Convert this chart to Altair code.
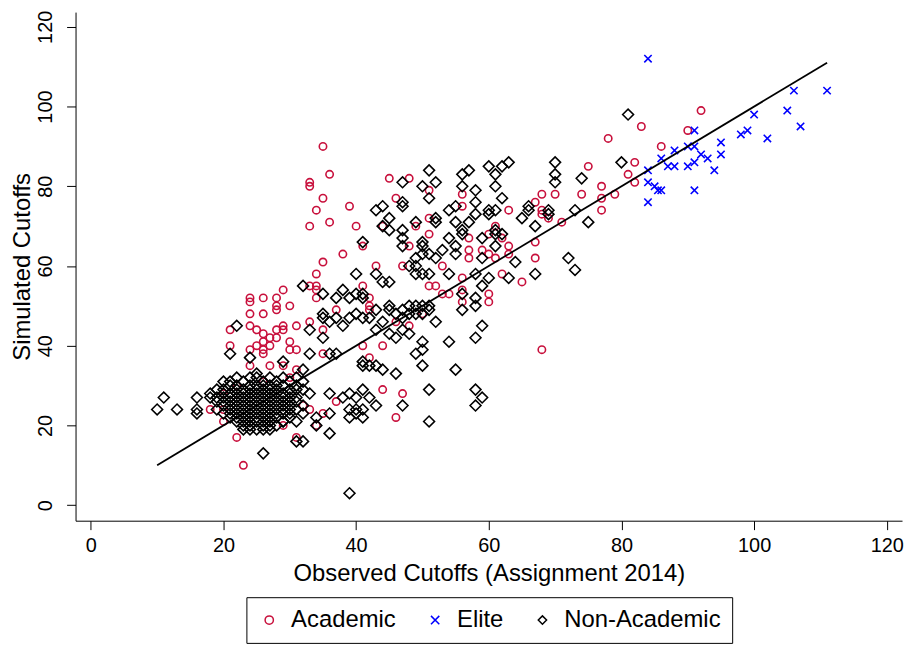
import altair as alt
import pandas as pd

groups = ["Academic", "Elite", "Non-Academic"]
group_colors = ["#c8103c", "#0000ff", "#000000"]
group_shapes = ["circle", "M-1,-1L1,1M-1,1L1,-1", "diamond"]
group_sizes = [55, 55, 120]

# (observed, simulated) cutoffs
academic = [
    [78, 92], [83, 95], [92, 99], [90, 94], [86, 90], [82, 86], [81, 83], [82, 81],
    [77, 80], [79, 78], [77, 77], [77, 74], [75, 85], [74, 78], [70, 78], [68, 78],
    [67, 76], [68, 74], [68, 73], [69, 72], [71, 71], [63, 74], [56, 78], [56, 75],
    [61, 70], [60, 68], [62, 67], [57, 67], [57, 64], [57, 62], [59, 64], [60, 63],
    [63, 65], [63, 63], [61, 62], [67, 66], [67, 62], [62, 58], [65, 56], [56, 57],
    [60, 53], [60, 51], [68, 39], [56, 51], [35, 90], [36, 83], [33, 81], [33, 80],
    [35, 77], [34, 74], [39, 75], [36, 71], [33, 70], [40, 70], [45, 82], [48, 82],
    [46, 77], [51, 79], [51, 72], [49, 70], [44, 70], [41, 65], [38, 63], [35, 61],
    [34, 58], [43, 60], [47, 60], [51, 68], [48, 65], [53, 60], [33, 55], [34, 54],
    [34, 52], [41, 55], [42, 52], [42, 50], [42, 49], [37, 49], [33, 46], [35, 44],
    [35, 38], [41, 40], [44, 40], [42, 37], [46, 46], [48, 45], [50, 48], [44, 29],
    [47, 28], [46, 22], [37, 26], [33, 24], [35, 23], [31, 45], [31, 39], [51, 55],
    [52, 55], [53, 53], [54, 53], [56, 54], [24, 52], [24, 51], [26, 52], [28, 52],
    [29, 54], [28, 50], [28, 49], [30, 50], [24, 48], [26, 48], [24, 45], [25, 44],
    [26, 43], [28, 44], [29, 45], [29, 44], [21, 44], [21, 40], [27, 42], [28, 42],
    [26, 41], [25, 40], [26, 39], [26, 38], [24, 39], [27, 40], [30, 41], [30, 39],
    [34, 55], [18, 24], [20, 21], [22, 17], [23, 10], [29, 20], [32, 25], [22, 30],
    [26, 31], [24, 35], [27, 35], [29, 35], [30, 32], [20, 24], [20, 28], [31, 17],
    [31, 34], [34, 20],
]

elite = [
    [84, 112], [91, 94], [106, 104], [111, 104], [100, 98], [105, 99], [107, 95],
    [98, 93], [99, 94], [102, 92], [95, 91], [95, 88], [94, 84], [93, 87], [92, 88],
    [91, 90], [90, 90], [91, 86], [90, 85], [88, 89], [88, 85], [87, 85], [86, 87],
    [84, 84], [84, 81], [85, 80], [85.5, 79], [86, 79], [91, 79], [84, 76],
]

non_academic = [
    [81, 98], [80, 86], [56, 83], [57, 84], [60, 85], [62, 85], [63, 86], [61, 83],
    [61, 80], [56, 80], [58, 79], [58, 76], [62, 77], [61, 74], [60, 74], [60, 73],
    [57, 71], [58, 73], [56, 69], [56, 68], [59, 67], [61, 69], [61, 68], [62, 68],
    [61, 65], [59, 62], [64, 61], [67, 58], [63, 57], [60, 57], [59, 55], [58, 58],
    [70, 86], [70, 83], [70, 81], [74, 82], [66, 75], [66, 74], [65, 72], [67, 70],
    [69, 74], [69, 73], [73, 74], [75, 71], [72, 62], [73, 59], [56, 53], [58, 52],
    [58, 50], [56, 49], [59, 45], [58, 42], [55, 34], [58, 29], [59, 27], [58, 25],
    [51, 84], [52, 81], [47, 81], [50, 80], [51, 77], [47, 76], [47, 75], [44, 75],
    [43, 74], [45, 72], [44, 70], [45, 69], [49, 71], [47, 69], [47, 67], [47, 65],
    [50, 66], [50, 65], [50, 63], [52, 72], [52, 71], [54, 74], [55, 75], [55, 71],
    [54, 67], [55, 65], [55, 63], [53, 64], [41, 66], [49, 62], [49, 60], [51, 63],
    [52, 62], [48, 60], [49, 58], [50, 58], [51, 58], [40, 58], [43, 58], [44, 56],
    [45, 56], [54, 58], [32, 55], [35, 53], [37, 52], [38, 54], [39, 52], [40, 53],
    [41, 53], [41, 52], [43, 49], [42, 47], [41, 47], [40, 48], [39, 47], [38, 45],
    [37, 47], [36, 46], [35, 48], [35, 47], [33, 44], [35, 42], [44, 46], [45, 50],
    [45, 49], [46, 48], [47, 49], [48, 50], [49, 50], [50, 50], [51, 50], [47, 47],
    [48, 48], [49, 48], [50, 48], [51, 49], [52, 46], [43, 44], [45, 43], [46, 42],
    [47, 44], [48, 43], [50, 41], [54, 41], [50, 39], [49, 38], [50, 35], [46, 33],
    [44, 34], [43, 35], [42, 35], [41, 36], [41, 35], [37, 38], [36, 38], [33, 38],
    [32, 34], [32, 31], [32, 29], [33, 28], [36, 28], [38, 27], [39, 28], [40, 27],
    [41, 29], [42, 27], [43, 25], [39, 24], [40, 24], [41, 24], [39, 22], [41, 22],
    [40, 23], [36, 23], [34, 22], [34, 20], [36, 18], [32, 25], [32, 23], [51, 29],
    [47, 25], [51, 21], [39, 3], [32, 16], [22, 45], [21, 38], [24, 37], [29, 36],
    [11, 27], [10, 24], [13, 24], [16, 27], [16, 24], [16, 23], [18, 27], [21, 31],
    [25, 33], [31, 21], [31, 16], [26, 13], [23, 19], [25, 19], [26, 19], [28, 20],
    [29, 21],
    # dense cluster
    [22, 32], [24, 32], [25, 32], [27, 32], [29, 32], [31, 32],
    [20, 31], [23, 31], [26, 31], [28, 31], [30, 31],
    [21, 30], [22, 30], [24, 30], [25, 30], [26, 30], [27, 30], [28, 30], [29, 30], [31, 30],
    [19, 29], [20, 29], [22, 29], [23, 29], [24, 29], [25, 29], [26, 29], [27, 29], [28, 29],
    [30, 29], [31, 29],
    [18, 28], [20, 28], [21, 28], [22, 28], [23, 28], [24, 28], [25, 28], [26, 28], [27, 28],
    [28, 28], [29, 28], [30, 28],
    [19, 27], [20, 27], [21, 27], [22, 27], [23, 27], [24, 27], [25, 27], [26, 27], [27, 27],
    [28, 27], [29, 27], [30, 27], [31, 27],
    [19, 26], [20, 26], [21, 26], [22, 26], [23, 26], [24, 26], [25, 26], [26, 26], [27, 26],
    [28, 26], [29, 26], [30, 26], [31, 26],
    [20, 25], [21, 25], [22, 25], [23, 25], [24, 25], [25, 25], [26, 25], [27, 25], [28, 25],
    [29, 25], [30, 25],
    [19, 24], [21, 24], [22, 24], [23, 24], [24, 24], [25, 24], [26, 24], [27, 24], [28, 24],
    [29, 24], [30, 24], [31, 24],
    [20, 23], [21, 23], [22, 23], [23, 23], [24, 23], [25, 23], [26, 23], [27, 23], [28, 23],
    [29, 23], [30, 23],
    [21, 22], [22, 22], [23, 22], [24, 22], [25, 22], [26, 22], [27, 22], [28, 22], [30, 22],
    [22, 21], [23, 21], [24, 21], [25, 21], [26, 21], [27, 21], [29, 21],
    [23, 20], [24, 20], [26, 20], [27, 20],
    [24, 19], [27, 19],
]

fit_obs = [10, 111]
fit_sim = [10, 111]

ticks = [0, 20, 40, 60, 80, 100, 120]

line_df = pd.DataFrame({"obs": fit_obs, "sim": fit_sim})

font = "Liberation Sans"

legend = alt.Legend(
    title=None,
    orient="none",
    legendX=172,
    legendY=589,
    direction="horizontal",
    labelFont=font,
    labelFontSize=24,
    labelColor="black",
    strokeColor="black",
    fillColor="white",
    padding=11,
    symbolSize=70,
    symbolStrokeWidth=1.5,
    columnPadding=27,
    labelOffset=10,
)

x_enc = alt.X(
    "obs:Q",
    title="Observed Cutoffs (Assignment 2014)",
    scale=alt.Scale(domain=[-2.3, 122.3], nice=False, zero=False),
    axis=alt.Axis(values=ticks, tickSize=9, labelPadding=6, titlePadding=6,
                  labelFontSize=20, titleFontSize=24, labelFlush=False),
)
y_enc = alt.Y(
    "sim:Q",
    title="Simulated Cutoffs",
    scale=alt.Scale(domain=[-3.9, 123.7], nice=False, zero=False),
    axis=alt.Axis(values=ticks, tickSize=9, labelPadding=15, titlePadding=1,
                  labelFontSize=20, titleFontSize=24, labelAngle=270,
                  labelAlign="center", labelBaseline="alphabetic", labelFlush=False),
)
color_enc = alt.Color("group:N", scale=alt.Scale(domain=groups, range=group_colors), legend=legend)
shape_enc = alt.Shape("group:N", scale=alt.Scale(domain=groups, range=group_shapes), legend=legend)

layers = []
for name, pts, size in zip(groups, [academic, elite, non_academic], group_sizes):
    gdf = pd.DataFrame(pts, columns=["obs", "sim"])
    gdf["group"] = name
    layers.append(
        alt.Chart(gdf).mark_point(filled=False, strokeWidth=1.6, opacity=1, size=size).encode(
            x=x_enc, y=y_enc, color=color_enc, shape=shape_enc
        )
    )

fit = alt.Chart(line_df).mark_line(color="black", strokeWidth=1.8).encode(
    x="obs:Q",
    y="sim:Q",
)

chart = alt.layer(*layers, fit).properties(
    width=832,
    height=512,
    autosize=alt.AutoSizeParams(type="none"),
    padding={"left": 68, "top": 2, "right": 4, "bottom": 123},
    background="white",
).configure_view(
    strokeWidth=0
).configure_axis(
    grid=False,
    domainColor="black",
    tickColor="black",
    labelColor="black",
    titleColor="black",
    labelFont=font,
    titleFont=font,
    titleFontWeight="normal",
    domainWidth=1,
    tickWidth=1,
)

chart.save("out.html", embed_options={"renderer": "svg", "actions": False})
